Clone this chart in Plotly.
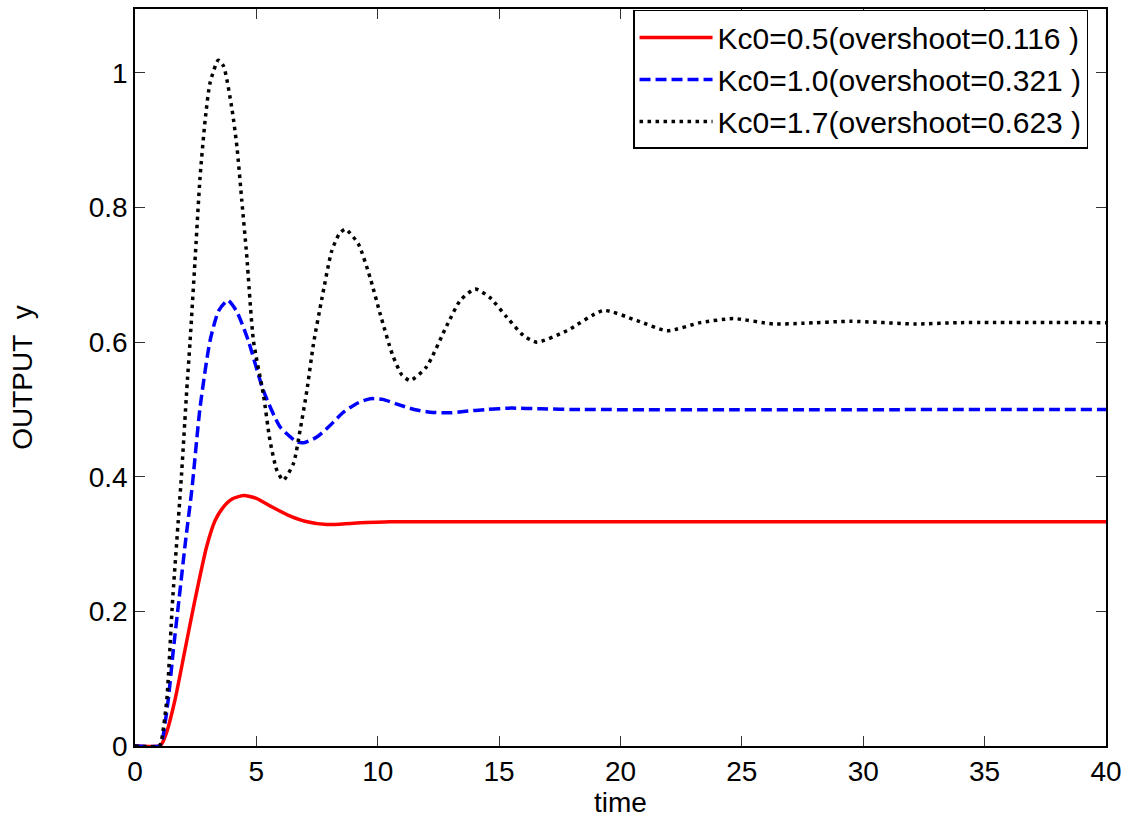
import plotly.graph_objects as go

# ---- data ----
t_red = [0, 1.0, 1.1, 1.3, 1.65, 2.06, 2.47, 2.95, 3.3, 3.64, 4.0, 4.47, 5.0, 5.6, 6.3, 7.0, 7.9, 9.0, 10.5, 12.0, 40.0]
y_red = [0, 0, 0.003, 0.02, 0.069, 0.143, 0.217, 0.296, 0.335, 0.355, 0.367, 0.372, 0.368, 0.356, 0.343, 0.334, 0.329, 0.331, 0.333, 0.333, 0.333]

t_blue = [0, 1.0, 1.1, 1.37, 1.58, 1.81, 2.1, 2.34, 2.68, 3.09, 3.45, 3.83, 4.2, 4.67, 5.29, 5.98, 6.67, 7.0, 7.49, 8.0, 8.59,
          9.2, 9.69, 10.2, 10.79, 11.5, 12.16, 13.0, 13.53, 14.5, 15.5, 16.7, 18.0, 40.0]
y_blue = [0, 0, 0.005, 0.069, 0.143, 0.217, 0.31, 0.38, 0.503, 0.602, 0.647, 0.662, 0.645, 0.602, 0.528, 0.474, 0.452, 0.451, 0.459, 0.475, 0.496,
          0.510, 0.516, 0.515, 0.508, 0.500, 0.496, 0.495, 0.497, 0.500, 0.502, 0.501, 0.500, 0.500]

t_black = [0, 1.0, 1.1, 1.31, 1.55, 1.92, 2.13, 2.27, 2.47, 2.68, 2.89, 3.09, 3.43, 3.65, 4.0, 4.2, 4.4, 4.6, 4.88, 5.29, 5.56, 5.84,
           6.11, 6.53, 6.8, 7.08, 7.35, 7.7, 8.1, 8.4, 8.66, 9.2, 9.7, 10.1, 10.6, 11.0, 11.34, 12.0, 12.85, 13.4, 14.01, 14.6, 15.32,
           16.0, 16.56, 17.79, 19.3, 20.68, 21.92, 23.29, 24.66, 26.3, 27.5, 29.5, 32.2, 34.0, 40.0]
y_black = [0, 0, 0.01, 0.069, 0.217, 0.405, 0.528, 0.602, 0.72, 0.845, 0.93, 0.985, 1.019, 1.01, 0.945, 0.89, 0.81, 0.73, 0.602, 0.522, 0.454, 0.41,
           0.395, 0.42, 0.469, 0.528, 0.597, 0.665, 0.735, 0.76, 0.768, 0.746, 0.694, 0.642, 0.582, 0.551, 0.543, 0.563, 0.625, 0.662, 0.679, 0.667, 0.637,
           0.610, 0.600, 0.617, 0.647, 0.632, 0.617, 0.629, 0.635, 0.627, 0.628, 0.631, 0.627, 0.629, 0.629]

names = ["Kc0=0.5(overshoot=0.116 )", "Kc0=1.0(overshoot=0.321 )", "Kc0=1.7(overshoot=0.623 )"]
x_ticks = [0, 5, 10, 15, 20, 25, 30, 35, 40]
y_ticks = [0, 0.2, 0.4, 0.6, 0.8, 1]
y_tick_text = ["0", "0.2", "0.4", "0.6", "0.8", "1"]

FONT = "Liberation Sans, Arial, sans-serif"

fig = go.Figure()
fig.add_trace(go.Scatter(x=t_red, y=y_red, mode="lines", name=names[0],
                         line=dict(color="#ff0000", width=3.5, shape="spline", smoothing=0.6)))
fig.add_trace(go.Scatter(x=t_blue, y=y_blue, mode="lines", name=names[1],
                         line=dict(color="#0000ff", width=3.5, dash="11px,5px", shape="spline", smoothing=0.6)))
fig.add_trace(go.Scatter(x=t_black, y=y_black, mode="lines", name=names[2],
                         line=dict(color="#000000", width=3.5, dash="3.5px,4.5px", shape="spline", smoothing=0.6)))

axis_common = dict(showgrid=False, zeroline=False, showline=True, linecolor="#000000", linewidth=1.5,
                   mirror="ticks", ticks="inside", ticklen=10, tickwidth=1, tickcolor="#333333",
                   tickfont=dict(family=FONT, size=28, color="#000000"))

fig.update_layout(
    width=1131, height=822,
    margin=dict(l=135, r=25, t=7, b=76),
    paper_bgcolor="white", plot_bgcolor="white",
    font=dict(family=FONT, size=28, color="#000000"),
    xaxis=dict(range=[0, 40], tickvals=x_ticks, ticktext=[str(v) for v in x_ticks],
               title=dict(text="time", font=dict(family=FONT, size=28), standoff=4), **axis_common),
    yaxis=dict(range=[0, 1.095], tickvals=y_ticks, ticktext=y_tick_text,
               title=dict(text="OUTPUT\u00a0\u00a0y", font=dict(family=FONT, size=28), standoff=48), **axis_common),
    legend=dict(x=0.9815, xanchor="right", y=0.9987, yanchor="top",
                bgcolor="white", bordercolor="#000000", borderwidth=1.5,
                font=dict(family=FONT, size=30, color="#000000"), itemwidth=73),
    showlegend=True,
)

fig.write_html("out.html")
